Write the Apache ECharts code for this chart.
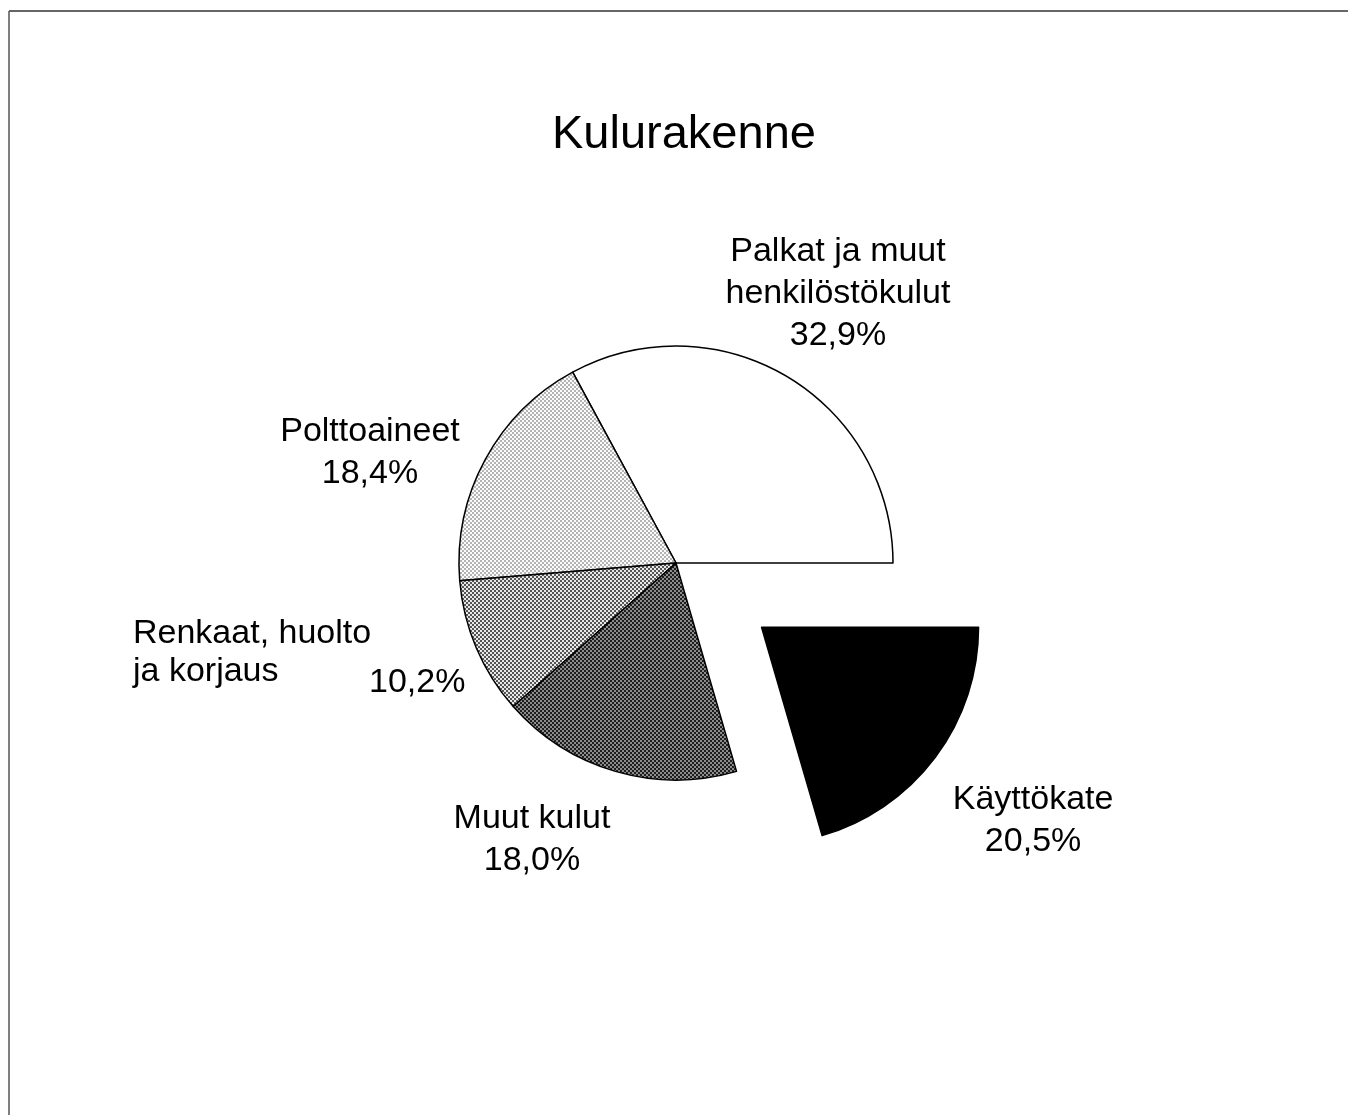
<!DOCTYPE html>
<html>
<head>
<meta charset="utf-8">
<script src="https://cdn.jsdelivr.net/npm/echarts@6/dist/echarts.min.js"></script>
<style>
  html, body { margin: 0; padding: 0; background: #fff; }
  #chart { width: 1348px; height: 1115px; }
</style>
</head>
<body>
<div id="chart"></div>
<script>
const categories = ['Palkat ja muut henkilöstökulut', 'Polttoaineet', 'Renkaat, huolto ja korjaus', 'Muut kulut', 'Käyttökate']
const shares = [32.9, 18.4, 10.2, 18.0, 20.5]
const shareLabels = ['32,9%', '18,4%', '10,2%', '18,0%', '20,5%']

// label anchors (x, y of text top) and alignment; the exploded slice uses an offset instead
const labelAnchors = [
  { x: 838, y: 231, align: 'center' },
  { x: 370, y: 411, align: 'center' },
  { x: 133, y: 613, align: 'left' },
  { x: 532, y: 798, align: 'center' },
  null,
]
const explodedLabelOffset = [163, 89]

function dotPattern(bg, dot) {
  const c = document.createElement('canvas')
  c.width = 4
  c.height = 4
  const ctx = c.getContext('2d')
  ctx.fillStyle = bg
  ctx.fillRect(0, 0, 4, 4)
  ctx.fillStyle = dot
  ctx.fillRect(0, 0, 2, 2)
  ctx.fillRect(2, 2, 2, 2)
  return { image: c, repeat: 'repeat' }
}

const fills = [
  '#ffffff',
  dotPattern('#fbfbfb', '#b4b4b4'),
  dotPattern('#e8e8e8', '#555555'),
  dotPattern('#1e1e1e', '#8c8c8c'),
  '#000000',
]

const FONT = '"Liberation Sans", Arial, Helvetica, sans-serif'

function labelText(i) {
  if (i === 0) return 'Palkat ja muut\nhenkilöstökulut\n' + shareLabels[i]
  if (i === 2) return '{n|Renkaat, huolto}\n{w|ja korjaus}{p|' + shareLabels[i] + '}'
  return categories[i] + '\n' + shareLabels[i]
}

const chart = echarts.init(document.getElementById('chart'))
chart.setOption({
  animation: false,
  backgroundColor: '#fff',
  title: {
    text: 'Kulurakenne',
    left: 547,
    top: 107,
    textStyle: { fontFamily: FONT, fontSize: 47, fontWeight: 'normal', color: '#000' },
  },
  graphic: [
    { type: 'line', shape: { x1: 9, y1: 11, x2: 1348, y2: 11 }, style: { stroke: '#333', lineWidth: 1.5 } },
    { type: 'line', shape: { x1: 9, y1: 11, x2: 9, y2: 1115 }, style: { stroke: '#555', lineWidth: 1.5 } },
  ],
  series: [
    {
      type: 'pie',
      center: [676, 563],
      radius: 217,
      startAngle: 0,
      clockwise: false,
      selectedMode: 'single',
      selectedOffset: 107,
      emphasis: { disabled: true },
      itemStyle: { borderColor: '#000', borderWidth: 1.5 },
      labelLine: { show: false },
      label: {
        show: true,
        position: 'outside',
        color: '#000',
        fontFamily: FONT,
        fontSize: 34,
        lineHeight: 42,
        rich: {
          n: { fontFamily: FONT, fontSize: 34, lineHeight: 42, color: '#000' },
          w: { fontFamily: FONT, fontSize: 34, lineHeight: 42, color: '#000', width: 236, verticalAlign: 'top' },
          p: { fontFamily: FONT, fontSize: 34, lineHeight: 42, color: '#000', padding: [11, 0, 0, 0], verticalAlign: 'top' },
        },
        formatter: (p) => labelText(p.dataIndex),
      },
      labelLayout: (p) => {
        const a = labelAnchors[p.dataIndex]
        if (!a) return {}
        return { x: a.x, y: a.y, align: a.align, verticalAlign: 'top' }
      },
      data: categories.map((name, i) => ({
        name,
        value: shares[i],
        selected: i === 4,
        itemStyle: { color: fills[i] },
        label: i === 4 ? { position: 'inside', offset: explodedLabelOffset, rotate: 0, align: 'center' } : undefined,
        select: {
          itemStyle: { color: fills[i], borderColor: '#000', borderWidth: 1.5 },
          label: i === 4 ? { position: 'inside', offset: explodedLabelOffset, rotate: 0, align: 'center', color: '#000' } : undefined,
        },
      })),
    },
  ],
})
</script>
</body>
</html>
